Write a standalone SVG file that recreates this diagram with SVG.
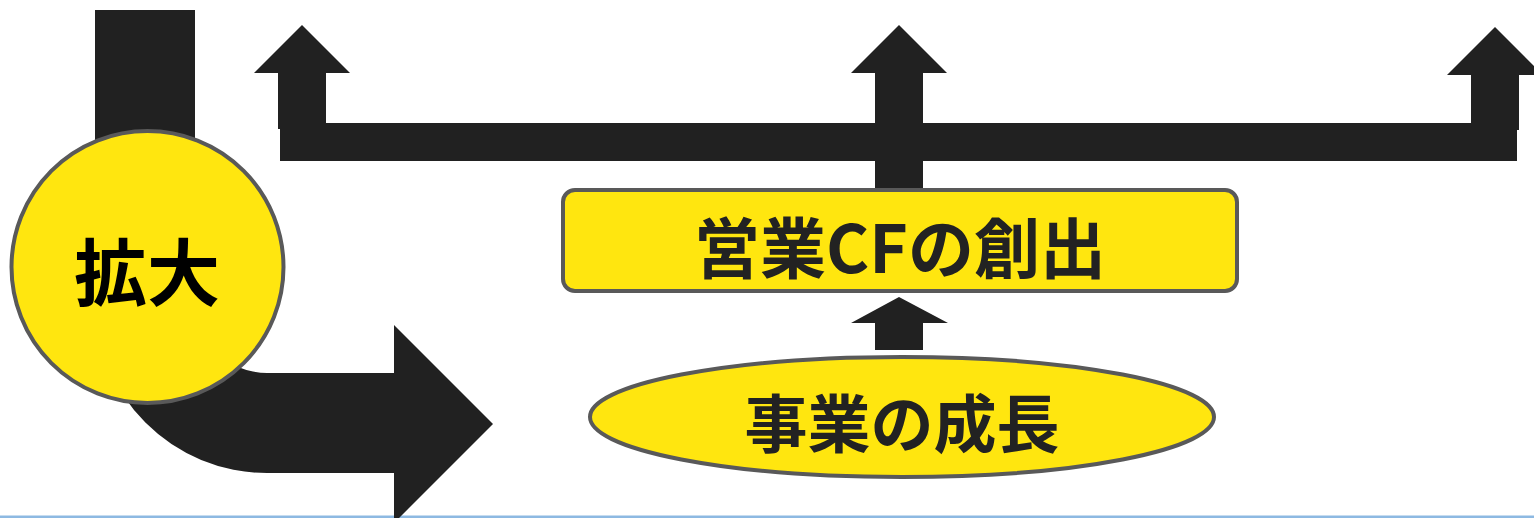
<svg xmlns="http://www.w3.org/2000/svg" width="1534" height="518" viewBox="0 0 1534 518">
  <style>
    .blk { fill: #212121; }
    .node { fill: #FFE60F; stroke: #595959; stroke-width: 4; }
    .lbl { font-family: "Noto Sans CJK JP", "Noto Sans", sans-serif; font-weight: 700; text-anchor: middle; dominant-baseline: central; }
  </style>
  <rect x="0" y="515.5" width="1534" height="2.5" fill="#8DB9E2"/>
  <g id="connectors">
    <path class="blk" d="M95,10 H195 V301 A72,72 0 0 0 267,373 H394 V325 L493,424 L394,523 V473 H267 A172,172 0 0 1 95,301 Z"/>
    <rect class="blk" x="280" y="123" width="1237" height="38"/>
    <path class="blk" d="M278,129 V73 H254 L302,25 L350,73 H326 V129 Z"/>
    <path class="blk" d="M875,190 V73 H851 L899,25 L947,73 H923 V190 Z"/>
    <path class="blk" d="M1471,130 V75 H1447 L1495,27 L1543,75 H1519 V130 Z"/>
    <path class="blk" d="M875,350 V323 H851 L899,297 L948,323 H923 V350 Z"/>
  </g>
  <g id="node-expand">
    <circle class="node" cx="147.5" cy="267" r="136"/>
    <text class="lbl" x="147" y="268" font-size="73" fill="#000">拡大</text>
  </g>
  <g id="node-cf">
    <rect class="node" x="563" y="190" width="674" height="101" rx="12"/>
    <text class="lbl" x="900" y="244" font-size="66" fill="#222">営業CFの創出</text>
  </g>
  <g id="node-growth">
    <ellipse class="node" cx="902" cy="417" rx="312" ry="60"/>
    <text class="lbl" x="902" y="419" font-size="63" fill="#222">事業の成長</text>
  </g>
</svg>
